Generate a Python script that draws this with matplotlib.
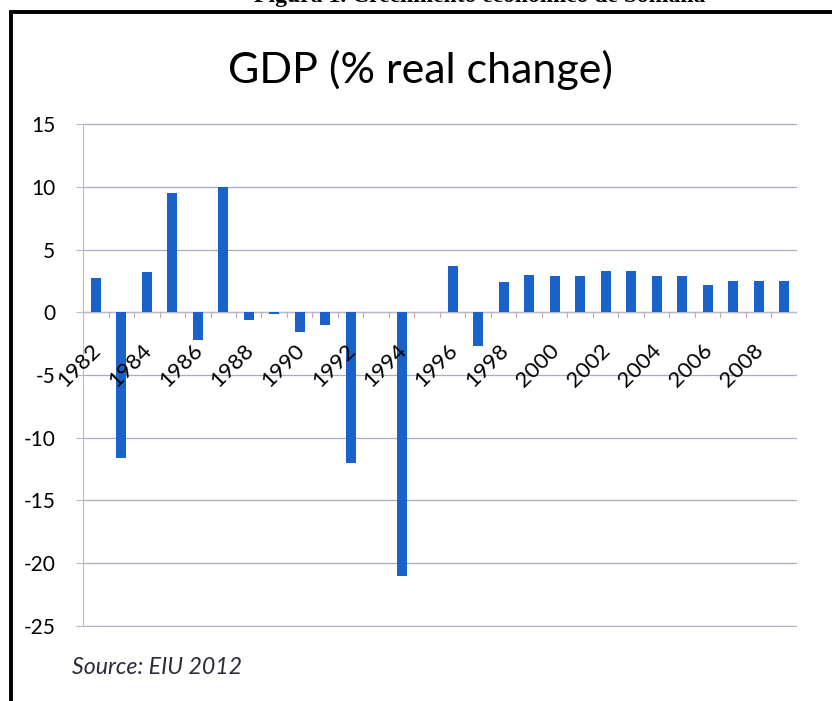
import matplotlib.pyplot as plt
from matplotlib.patches import Rectangle

years = list(range(1982, 2010))
gdp_change = [2.7, -11.6, 3.2, 9.5, -2.2, 10.0, -0.6, -0.1, -1.6, -1.0,
              -12.0, 0.0, -21.0, 0.0, 3.7, -2.7, 2.4, 3.0, 2.9, 2.9,
              3.3, 3.3, 2.9, 2.9, 2.2, 2.5, 2.5, 2.5]
y_ticks = [15, 10, 5, 0, -5, -10, -15, -20, -25]

plt.rcParams['font.family'] = ['Lato', 'DejaVu Sans']

fig = plt.figure(figsize=(8.32, 7.01), dpi=100)
ax = fig.add_axes([0.0998, 0.1056, 0.858, 0.719])

x = list(range(len(years)))
ax.bar(x, gdp_change, width=0.4, color='#1a62c9', zorder=3)

ax.set_xlim(-0.5, len(years) - 0.5)
ax.set_ylim(-25.1, 15.1)
ax.set_yticks(y_ticks)
ax.set_yticklabels([str(v) for v in y_ticks], fontsize=15)
ax.grid(axis='y', color='#a9acc8', linewidth=0.9, zorder=0)

for side in ['top', 'right', 'bottom']:
    ax.spines[side].set_visible(False)
ax.spines['left'].set_color('#b8bad0')
ax.spines['left'].set_bounds(-25, 15)
ax.tick_params(axis='y', length=5, color='#b8bad0', pad=15)
ax.set_xticks([])

# zero line acts as category axis
ax.axhline(0, color='#b8bad0', linewidth=1.0, zorder=2)
for i in range(1, len(years)):
    ax.plot([i - 0.5, i - 0.5], [0, -0.4], color='#c8a8a8', linewidth=0.8, zorder=2)

# rotated year labels, every second year
for i, yr in enumerate(years):
    if i % 2 == 0:
        ax.annotate(str(yr), xy=(i, 0), xytext=(-4, -20), textcoords='offset points',
                    rotation=45, ha='right', va='top', rotation_mode='anchor',
                    fontsize=16, color='black', zorder=4)

fig.text(0.505, 0.9, 'GDP (% real change)', ha='center', va='center', fontsize=31)
fig.text(0.086, 0.0485, 'Source: EIU 2012', ha='left', va='center', fontsize=16.7,
         style='italic', color='#2b2b3a')
fig.text(0.577, 0.997, 'Figura 1. Crecimiento económico de Somalia', ha='center',
         va='baseline', fontsize=17, fontweight='bold', family='Liberation Serif')

fig.add_artist(Rectangle((0.0135, -0.05), 1.1, 1.033, transform=fig.transFigure,
                         fill=False, edgecolor='black', linewidth=2.8))

fig.savefig('out.png', dpi=100)
